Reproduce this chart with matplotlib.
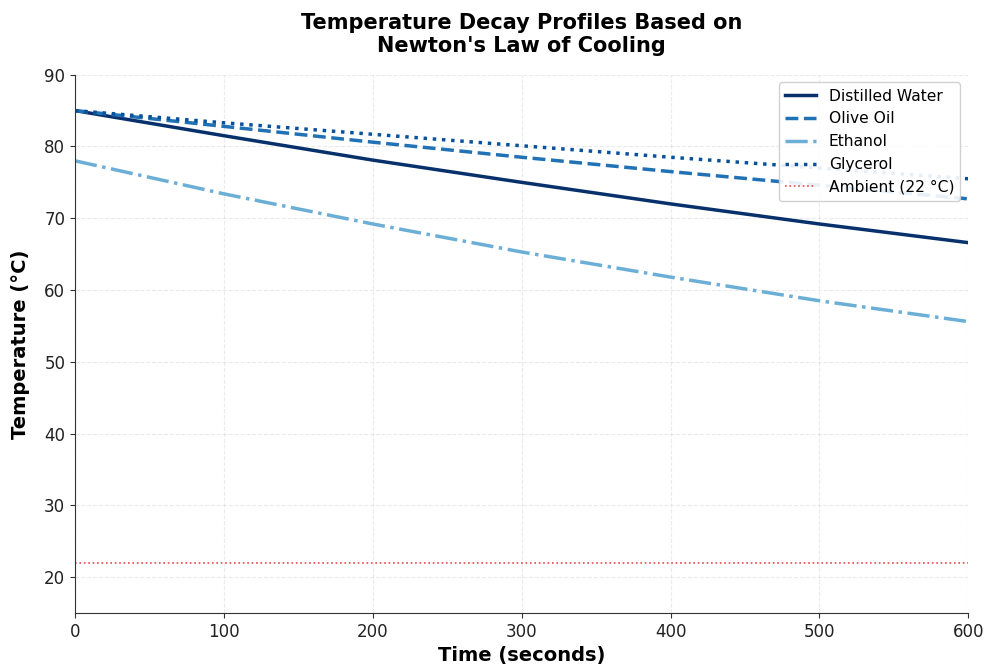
import matplotlib
matplotlib.use("Agg")
from matplotlib import pyplot as plt

plt.rcParams['font.family'] = ['DejaVu Sans']

# time points (s) and temperature readings (°C)
time_s = [0, 100, 200, 300, 400, 500, 600]
water = [85.0, 81.5, 78.1, 75.0, 72.0, 69.2, 66.6]
olive_oil = [85.0, 82.8, 80.6, 78.5, 76.5, 74.6, 72.7]
ethanol = [78.0, 73.4, 69.2, 65.3, 61.8, 58.5, 55.6]
glycerol = [85.0, 83.3, 81.7, 80.1, 78.5, 77.0, 75.5]
ambient = 22

fig, ax = plt.subplots(figsize=(9.87, 6.67), dpi=100)

ax.plot(time_s, water, color="#08306b", lw=2.5, ls="-", label="Distilled Water")
ax.plot(time_s, olive_oil, color="#2171b5", lw=2.5, ls="--", label="Olive Oil")
ax.plot(time_s, ethanol, color="#6baed6", lw=2.5, ls="-.", label="Ethanol")
ax.plot(time_s, glycerol, color="#08519c", lw=2.5, ls=":", label="Glycerol")
ax.axhline(ambient, color="#e41a1c", lw=1.2, ls=":", alpha=0.8, label="Ambient (22 °C)")

ax.set_xlim(0, 600)
ax.set_ylim(15, 90)
ax.set_xlabel("Time (seconds)", fontsize=14, fontweight="bold", labelpad=4)
ax.set_ylabel("Temperature (°C)", fontsize=14, fontweight="bold", labelpad=10)
ax.set_title("Temperature Decay Profiles Based on\nNewton's Law of Cooling",
             fontsize=15, fontweight="bold", pad=16)
ax.tick_params(labelsize=12, color="#333333", labelcolor="#222222")
ax.grid(True, ls="--", alpha=0.25)
for s in ("left", "bottom"):
    ax.spines[s].set_color("#333333")
ax.spines["top"].set_visible(False)
ax.spines["right"].set_visible(False)
ax.legend(loc="upper right", fontsize=11.2, framealpha=0.9)

fig.subplots_adjust(left=0.076, right=0.981, top=0.888, bottom=0.081)
fig.savefig("out.png", dpi=100)
